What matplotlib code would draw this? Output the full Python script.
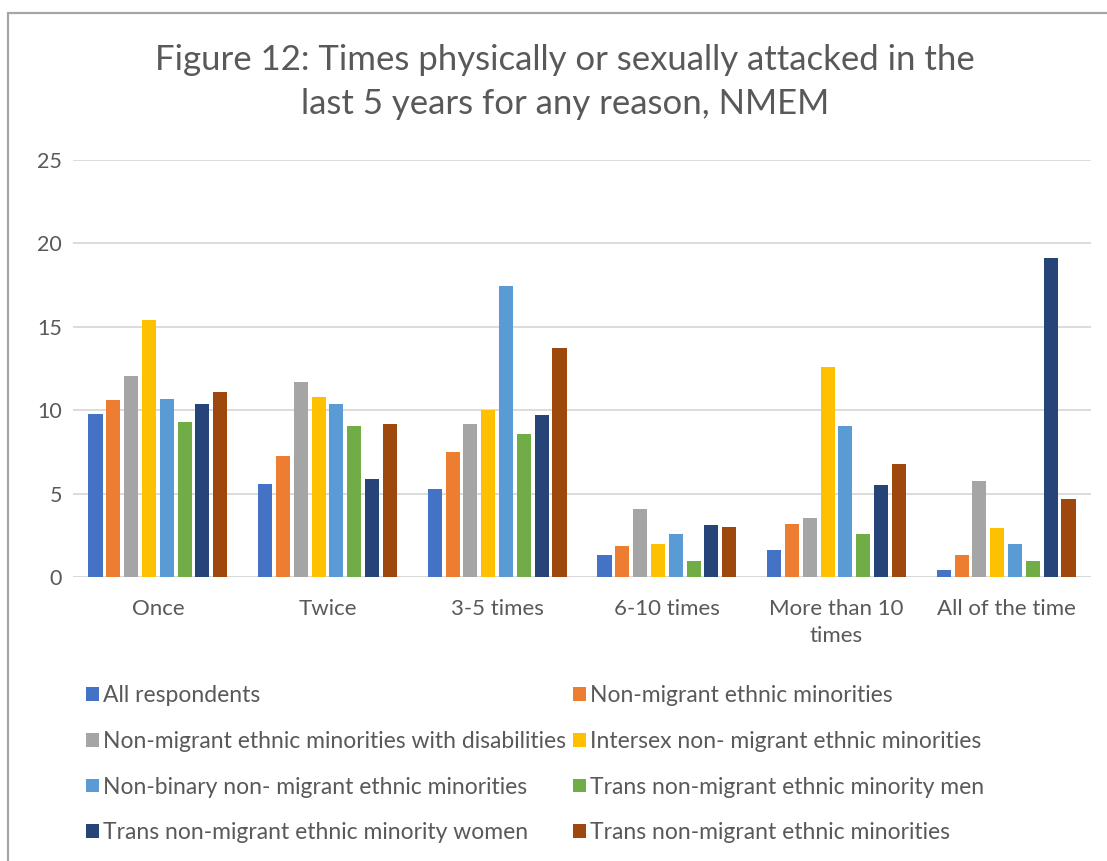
import matplotlib
matplotlib.use("Agg")
import matplotlib.pyplot as plt
from matplotlib.patches import Rectangle
import numpy as np

plt.rcParams['font.family'] = ['Lato', 'DejaVu Sans']

categories = ['Once', 'Twice', '3-5 times', '6-10 times', 'More than 10\ntimes', 'All of the time']
series = [
    'All respondents',
    'Non-migrant ethnic minorities',
    'Non-migrant ethnic minorities with disabilities',
    'Intersex non- migrant ethnic minorities',
    'Non-binary non- migrant ethnic minorities',
    'Trans non-migrant ethnic minority men',
    'Trans non-migrant ethnic minority women',
    'Trans non-migrant ethnic minorities',
]
all_respondents = [9.75, 5.6, 5.3, 1.3, 1.6, 0.4]
non_migrant = [10.6, 7.25, 7.5, 1.85, 3.15, 1.3]
with_disabilities = [12.05, 11.7, 9.15, 4.1, 3.55, 5.75]
intersex = [15.4, 10.8, 10.0, 2.0, 12.6, 2.95]
non_binary = [10.7, 10.4, 17.45, 2.55, 9.05, 2.0]
trans_men = [9.3, 9.05, 8.6, 0.95, 2.55, 0.95]
trans_women = [10.4, 5.85, 9.7, 3.1, 5.5, 19.1]
trans_all = [11.1, 9.15, 13.7, 3.0, 6.8, 4.7]
values = [all_respondents, non_migrant, with_disabilities, intersex,
          non_binary, trans_men, trans_women, trans_all]
colors = ['#4472C4', '#ED7D31', '#A5A5A5', '#FFC000',
          '#5B9BD5', '#70AD47', '#264478', '#9E480E']

txt = '#595959'
fig = plt.figure(figsize=(11.07, 8.61), dpi=100)
ax = fig.add_axes([73 / 1107, 1 - 577 / 861, (1091 - 73) / 1107, (577 - 160) / 861])

x = np.arange(len(categories))
pitch = 0.105
width = 0.083
for i, (vals, col) in enumerate(zip(values, colors)):
    ax.bar(x + (i - 3.5) * pitch, vals, width, color=col, label=series[i], zorder=3)

ax.set_xlim(-0.5, len(categories) - 0.5)
ax.set_ylim(0, 25)
ax.set_yticks(range(0, 26, 5))
ax.grid(axis='y', color='#D9D9D9', linewidth=1.3, zorder=0)
for s in ax.spines.values():
    s.set_visible(False)
ax.axhline(0, color='#D9D9D9', linewidth=1.3, zorder=2)
ax.set_xticks(x)
ax.set_xticklabels(categories, fontsize=16, color=txt, linespacing=1.4)
ax.tick_params(axis='both', length=0, labelcolor=txt)
ax.tick_params(axis='x', pad=16, labelsize=16)
ax.tick_params(axis='y', pad=8, labelsize=15.5)

fig.text(565 / 1107, 1 - 82 / 861,
         'Figure 12: Times physically or sexually attacked in the\nlast 5 years for any reason, NMEM',
         ha='center', va='center', fontsize=25, color=txt, linespacing=1.45)

# chart frame
fig.patches.append(Rectangle((8 / 1107, -0.01), 1.1, 1 - 13 / 861 + 0.01,
                             transform=fig.transFigure, fill=False,
                             edgecolor='#A6A6A6', linewidth=1.6))

# legend filled row by row
handles, labels = ax.get_legend_handles_labels()
order = [0, 2, 4, 6, 1, 3, 5, 7]
leg = fig.legend([handles[k] for k in order], [labels[k] for k in order],
                 ncol=2, loc='upper left',
                 bbox_to_anchor=(77 / 1107, 1 - 676 / 861),
                 frameon=False, fontsize=16.5, labelcolor=txt,
                 handlelength=0.55, handleheight=0.55, handletextpad=0.2,
                 columnspacing=0.3, labelspacing=1.08, borderaxespad=0)

fig.savefig('out.png', dpi=100)
